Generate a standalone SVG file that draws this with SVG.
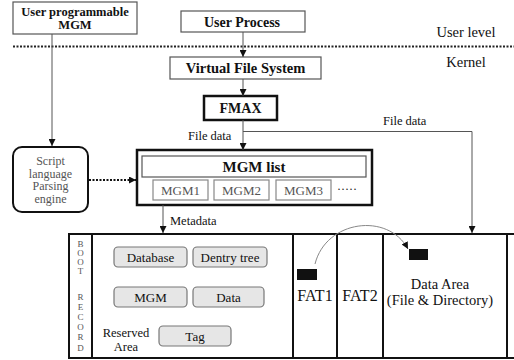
<svg xmlns="http://www.w3.org/2000/svg" width="514" height="360" viewBox="0 0 514 360" font-family="'Liberation Serif', 'DejaVu Serif', serif">
<style>
text{font-family:'Liberation Serif','DejaVu Serif',serif;fill:#111}
.b{font-weight:bold}
.box{fill:#fff;stroke:#555;stroke-width:1.2}
.thick{fill:#fff;stroke:#111;stroke-width:2.5}
.mgm{fill:#fff;stroke:#888;stroke-width:1.2}
.rb{fill:#e6e6e6;stroke:#777;stroke-width:1.2}
.g{fill:#555}
.con{fill:none;stroke:#555;stroke-width:1}
.st{stroke:#111;stroke-width:2;fill:none}
</style>
<defs>
<marker id="ah" viewBox="0 0 8 8" refX="8" refY="4" markerWidth="7" markerHeight="7" markerUnits="userSpaceOnUse" orient="auto">
<path d="M0,0 L8,4 L0,8 z" fill="#111"/>
</marker>
</defs>
<rect width="514" height="360" fill="#fff"/>

<g id="level-divider">
<line x1="13" y1="46.5" x2="514" y2="46.5" stroke="#222" stroke-width="2" stroke-dasharray="2,1.5"/>
<text x="466" y="37" font-size="14.5" text-anchor="middle">User level</text>
<text x="466" y="67" font-size="14.5" text-anchor="middle">Kernel</text>
</g>

<g id="user-mgm">
<rect class="box" x="13" y="2" width="124" height="32"/>
<text class="b" x="75" y="16" font-size="12.5" text-anchor="middle">User programmable</text>
<text class="b" x="75" y="29" font-size="12.5" text-anchor="middle">MGM</text>
</g>

<g id="user-process">
<rect class="box" x="181" y="11" width="124" height="21"/>
<text class="b" x="242" y="26.5" font-size="14" text-anchor="middle">User Process</text>
</g>

<g id="vfs">
<rect class="box" x="170" y="57" width="151" height="22"/>
<text class="b" x="245.5" y="73" font-size="14.5" text-anchor="middle">Virtual File System</text>
</g>

<g id="fmax">
<rect class="thick" x="204" y="96" width="73" height="24"/>
<text class="b" x="240.5" y="113" font-size="14" text-anchor="middle">FMAX</text>
</g>

<g id="script-engine">
<rect x="13" y="147" width="75" height="65" rx="9" fill="#fff" stroke="#111" stroke-width="2"/>
<text class="g" x="50.5" y="165" font-size="12" text-anchor="middle">Script</text>
<text class="g" x="50.5" y="177.5" font-size="12" text-anchor="middle">language</text>
<text class="g" x="50.5" y="190" font-size="12" text-anchor="middle">Parsing</text>
<text class="g" x="50.5" y="202.5" font-size="12" text-anchor="middle">engine</text>
</g>

<g id="mgm-list">
<rect class="thick" x="137" y="150" width="235" height="55"/>
<rect class="box" x="142" y="156" width="224" height="21"/>
<text class="b" x="254" y="172" font-size="15" text-anchor="middle">MGM list</text>
<rect class="mgm" x="153" y="180" width="55" height="20"/>
<text class="g" x="180.5" y="194.5" font-size="13" text-anchor="middle">MGM1</text>
<rect class="mgm" x="214" y="180" width="55" height="20"/>
<text class="g" x="241.5" y="194.5" font-size="13" text-anchor="middle">MGM2</text>
<rect class="mgm" x="276" y="180" width="55" height="20"/>
<text class="g" x="303.5" y="194.5" font-size="13" text-anchor="middle">MGM3</text>
<text x="337" y="193" font-size="12" fill="#333">·····</text>
</g>

<g id="storage">
<line class="st" x1="68" y1="234" x2="514" y2="234"/>
<line class="st" x1="68" y1="358" x2="514" y2="358"/>
<line class="st" x1="69" y1="234" x2="69" y2="358"/>
<line class="st" x1="92" y1="234" x2="92" y2="358"/>
<line class="st" x1="293" y1="234" x2="293" y2="358"/>
<line class="st" x1="337" y1="234" x2="337" y2="358"/>
<line class="st" x1="383" y1="234" x2="383" y2="358"/>
<line class="st" x1="507" y1="234" x2="507" y2="358"/>
</g>

<g id="boot-record">
<g class="g" font-size="9" text-anchor="middle">
<text x="80.5" y="247" class="g">B</text>
<text x="80.5" y="256" class="g">O</text>
<text x="80.5" y="265" class="g">O</text>
<text x="80.5" y="274" class="g">T</text>
<text x="80.5" y="300" class="g">R</text>
<text x="80.5" y="310" class="g">E</text>
<text x="80.5" y="320" class="g">C</text>
<text x="80.5" y="330" class="g">O</text>
<text x="80.5" y="340" class="g">R</text>
<text x="80.5" y="351" class="g">D</text>
</g>
</g>

<g id="reserved-area">
<rect class="rb" x="114" y="247" width="73" height="20" rx="4"/>
<text x="150.5" y="261.5" font-size="13" text-anchor="middle" fill="#333">Database</text>
<rect class="rb" x="193" y="247" width="74" height="20" rx="4"/>
<text x="230" y="261.5" font-size="13" text-anchor="middle" fill="#333">Dentry tree</text>
<rect class="rb" x="114" y="287" width="73" height="20" rx="4"/>
<text x="150.5" y="301.5" font-size="13" text-anchor="middle" fill="#333">MGM</text>
<rect class="rb" x="193" y="287" width="71" height="20" rx="4"/>
<text x="228.5" y="301.5" font-size="13" text-anchor="middle" fill="#333">Data</text>
<rect class="rb" x="159" y="326" width="72" height="20" rx="4"/>
<text x="195" y="340.5" font-size="13" text-anchor="middle" fill="#333">Tag</text>
<text x="126" y="337" font-size="12.5" text-anchor="middle" fill="#333">Reserved</text>
<text x="126" y="350.5" font-size="12.5" text-anchor="middle" fill="#333">Area</text>
</g>

<g id="fat1">
<rect x="297" y="269" width="20" height="11" fill="#111"/>
<text x="315" y="301" font-size="16" text-anchor="middle">FAT1</text>
</g>

<g id="fat2">
<text x="360" y="301" font-size="16" text-anchor="middle">FAT2</text>
</g>

<g id="data-area">
<rect x="409" y="249" width="19" height="11" fill="#111"/>
<text x="440" y="289" font-size="14.5" text-anchor="middle">Data Area</text>
<text x="440" y="305" font-size="14.5" text-anchor="middle">(File &amp; Directory)</text>
</g>

<g id="connectors">
<line class="con" x1="52" y1="34" x2="52" y2="146" marker-end="url(#ah)"/>
<line class="con" x1="243" y1="32" x2="243" y2="57" marker-end="url(#ah)"/>
<line class="con" x1="243" y1="79" x2="243" y2="96" marker-end="url(#ah)"/>
<line class="con" x1="243" y1="120" x2="243" y2="150" marker-end="url(#ah)"/>
<polyline class="con" points="243,131.5 472,131.5 472,233" marker-end="url(#ah)"/>
<line x1="89" y1="180" x2="136" y2="180" stroke="#111" stroke-width="2" stroke-dasharray="2,1.5" marker-end="url(#ah)"/>
<line class="con" x1="163" y1="205" x2="163" y2="233" marker-end="url(#ah)"/>
<path d="M315,264 C326,220 388,212 408,249" fill="none" stroke="#888" stroke-width="1" marker-end="url(#ah)"/>
<text x="188" y="139.5" font-size="12.5" fill="#333">File data</text>
<text x="383" y="124.5" font-size="12.5" fill="#333">File data</text>
<text x="170" y="224.5" font-size="12.5" fill="#333">Metadata</text>
</g>
</svg>
